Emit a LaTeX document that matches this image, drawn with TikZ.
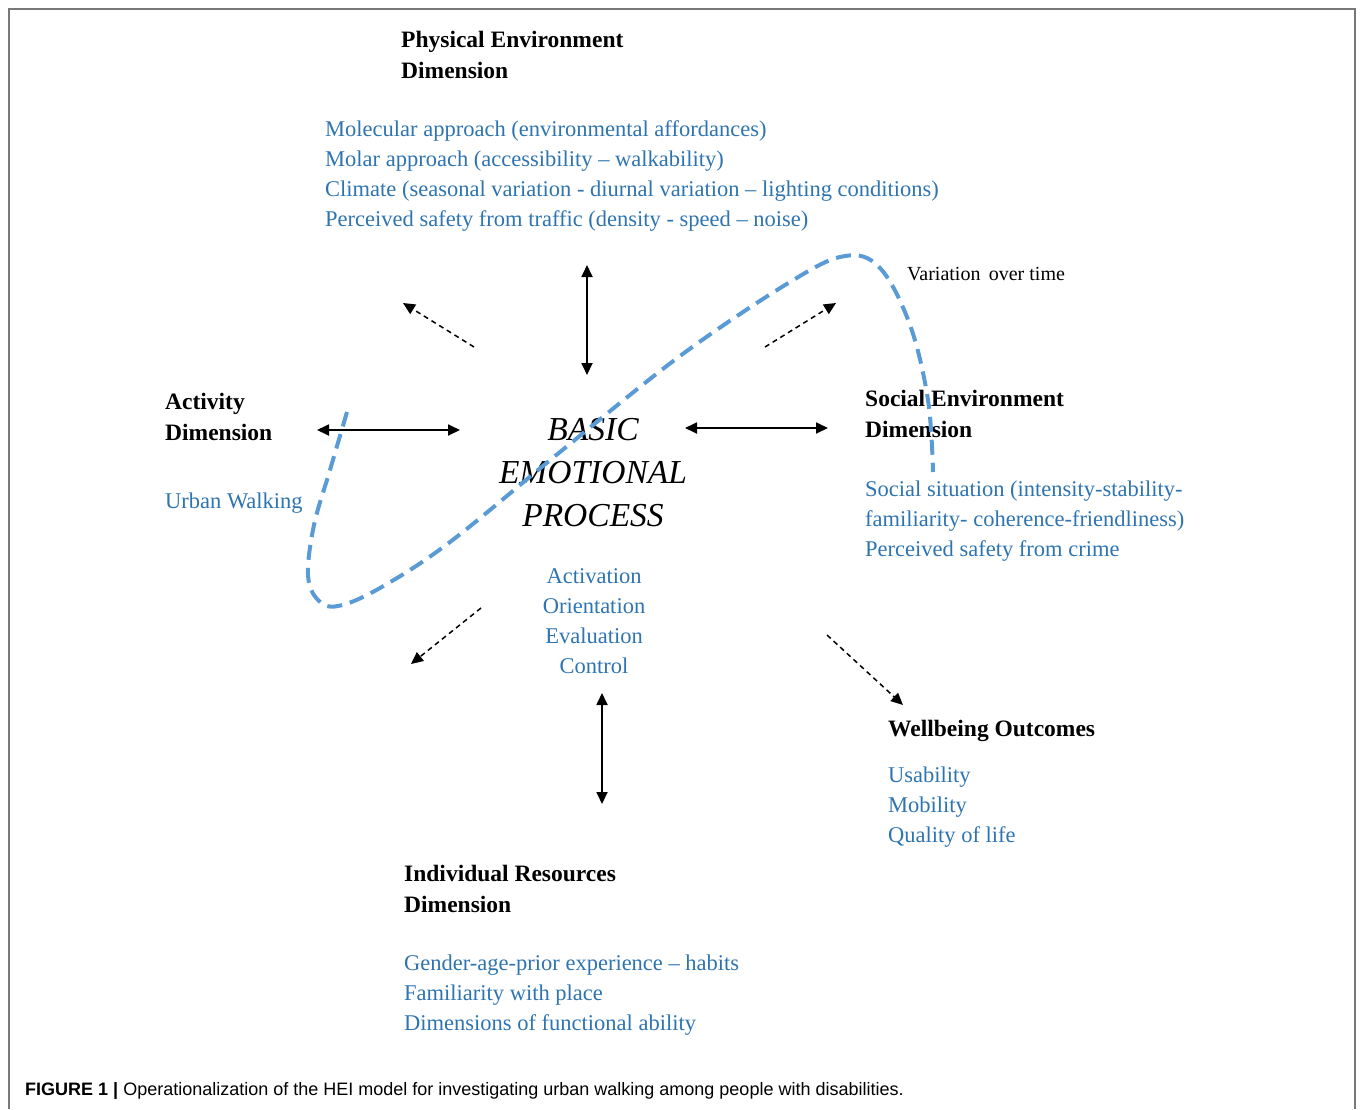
\documentclass[tikz,border=0pt]{standalone}
\usepackage{fontspec}
\setmainfont{Liberation Serif}
\setsansfont{Liberation Sans}
\usetikzlibrary{arrows.meta}

\definecolor{itemblue}{RGB}{46,116,176}
\definecolor{loopblue}{RGB}{91,155,213}
\definecolor{framegray}{RGB}{120,120,120}

\tikzset{
	head/.style={font=\bfseries\fontsize{23.5}{31}\selectfont, align=left, anchor=base west, inner sep=0pt},
	item/.style={text=itemblue, font=\fontsize{22.5}{30}\selectfont, align=left, anchor=base west, inner sep=0pt},
	link/.style={{Triangle[length=12pt,width=11pt]}-{Triangle[length=12pt,width=11pt]}, line width=1.8pt},
	effect/.style={-{Triangle[length=12pt,width=11pt]}, dash pattern=on 5pt off 4pt, line width=1.5pt},
	loopline/.style={loopblue, line width=4pt, dash pattern=on 15pt off 8pt},
}

\begin{document}
\begin{tikzpicture}[x=1pt,y=-1pt]
	\useasboundingbox (0,0) rectangle (1360,1109);
	\draw[framegray, line width=1.5pt] (9,1109) -- (9,9) -- (1355,9) -- (1355,1109);

	% dimensions (nodes sit on the baseline of their last line)
	\node[head] (phys) at (401,78) {Physical Environment\\Dimension};
	\node[item] (physitems) at (325,226) {Molecular approach (environmental affordances)\\Molar approach (accessibility -- walkability)\\Climate (seasonal variation - diurnal variation -- lighting conditions)\\Perceived safety from traffic (density - speed -- noise)};
	\node[head] (act) at (165,440) {Activity\\Dimension};
	\node[item] (actitems) at (165,508) {Urban Walking};
	\node[head] (soc) at (865,437) {Social Environment\\Dimension};
	\node[item] (socitems) at (865,556) {Social situation (intensity-stability-\\familiarity- coherence-friendliness)\\Perceived safety from crime};
	\node[head] (well) at (888,736) {Wellbeing Outcomes};
	\node[item] (wellitems) at (888,842) {Usability\\Mobility\\Quality of life};
	\node[head] (ind) at (404,912) {Individual Resources\\Dimension};
	\node[item] (inditems) at (404,1030) {Gender-age-prior experience -- habits\\Familiarity with place\\Dimensions of functional ability};

	% centre
	\node[font=\itshape\fontsize{33.5}{43}\selectfont, align=center, anchor=base, inner sep=0pt] (bep) at (593,526) {BASIC\\EMOTIONAL\\PROCESS};
	\node[item, align=center, anchor=base] (bepitems) at (594,673) {Activation\\Orientation\\Evaluation\\Control};
	\node[font=\fontsize{20}{22}\selectfont, anchor=base west, inner sep=0pt] (var) at (907,280) {Variation\, over time};

	% arrow ends
	\coordinate (n1) at (587,265);
	\coordinate (n2) at (587,375);
	\coordinate (w1) at (317,430);
	\coordinate (w2) at (460,430);
	\coordinate (e1) at (685,428);
	\coordinate (e2) at (828,428);
	\coordinate (s1) at (602,693);
	\coordinate (s2) at (602,804);
	\coordinate (nw1) at (474,347);
	\coordinate (nw2) at (403,303);
	\coordinate (ne1) at (765,347);
	\coordinate (ne2) at (836,303);
	\coordinate (sw1) at (481,608);
	\coordinate (sw2) at (411,664);
	\coordinate (se1) at (827,635);
	\coordinate (se2) at (903,705);

	\path [link] (n1) edge (n2);
	\path [link] (w1) edge (w2);
	\path [link] (e1) edge (e2);
	\path [link] (s1) edge (s2);
	\path [effect] (nw1) edge (nw2);
	\path [effect] (ne1) edge (ne2);
	\path [effect] (sw1) edge (sw2);
	\path [effect] (se1) edge (se2);

	% variation over time
	\draw[loopline] plot[smooth, tension=0.6] coordinates {(347,412) (330,470) (314,525) (308,575) (318,600) (338,606) (380,588) (450,542) (560,452) (680,356) (790,282) (845,256) (880,268) (910,325) (928,400) (933,472)};

	% caption
	\node[font=\sffamily\fontsize{18}{20}\selectfont, anchor=base west, inner sep=0pt] (cap) at (25,1095) {\textbf{FIGURE 1 |} Operationalization of the HEI model for investigating urban walking among people with disabilities.};
\end{tikzpicture}
\end{document}
